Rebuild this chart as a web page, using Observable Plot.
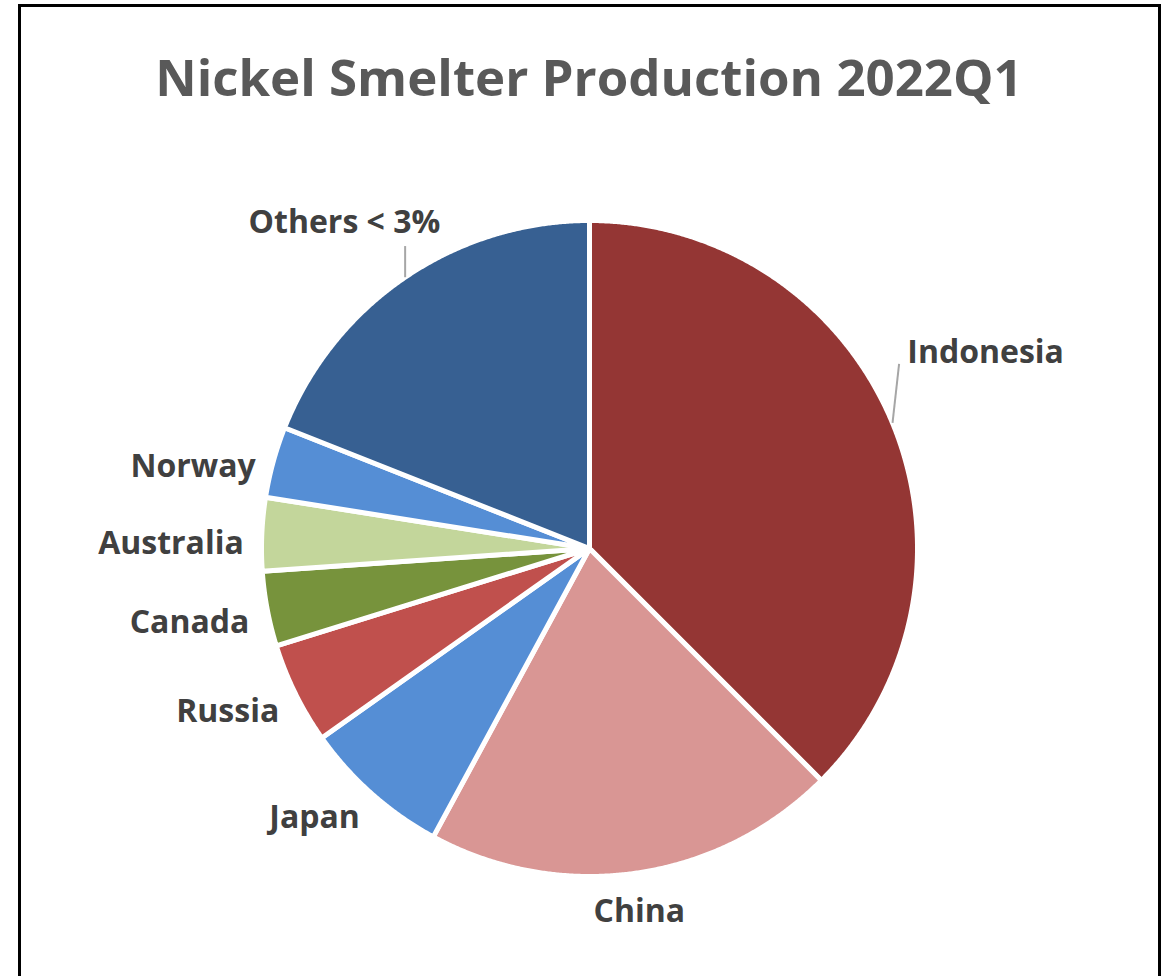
<!DOCTYPE html>
<html>
<head>
<meta charset="utf-8">
<script src="https://cdn.jsdelivr.net/npm/d3@7"></script>
<script src="https://cdn.jsdelivr.net/npm/@observablehq/plot@0.6"></script>
<style>
  html, body { margin: 0; padding: 0; background: #fff; }
  #wrap { position: relative; width: 1171px; height: 976px; overflow: hidden; background: #fff; }
  #frame { position: absolute; left: 18px; top: 4px; width: 1143px; height: 1100px; border: 3px solid #000; box-sizing: border-box; }
  #title { position: absolute; left: 0; top: 46px; width: 1178px; text-align: center; line-height: 60px;
           font-family: "Open Sans", sans-serif; font-weight: 700; font-size: 51px; color: #595959; white-space: nowrap; }
  #chart { position: absolute; left: 0; top: 150px; }
</style>
</head>
<body>
<div id="wrap">
  <div id="frame"></div>
  <div id="title">Nickel Smelter Production 2022Q1</div>
  <div id="chart"></div>
</div>
<script>
// ---- data ----
const countries = ["Indonesia", "China", "Japan", "Russia", "Canada", "Australia", "Norway", "Others < 3%"];
const shares    = [37.5, 20.4, 7.3, 5.0, 3.7, 3.6, 3.5, 19.0];
const colors    = ["#943634", "#D99694", "#558ED5", "#C0504D", "#77933C", "#C3D69B", "#558ED5", "#376092"];

// ---- layout (radius units) ----
const leaderLabels = {
  "Indonesia":   {end: [0.02, 0.18],  text: [0.045, 0.215], anchor: "start"},
  "Others < 3%": {end: [0.0, 0.095],  text: [-0.185, 0.165], anchor: "middle"}
};
const labelGap = 1.055;

const table = countries.map((name, i) => ({name, share: shares[i]}));
const arcs = d3.pie().sort(null).value(d => d.share).startAngle(0).endAngle(2 * Math.PI)(table);

// slice outlines as polygons (center + arc samples)
const poly = [];
for (const a of arcs) {
  poly.push({name: a.data.name, x: 0, y: 0});
  const n = Math.max(2, Math.ceil((a.endAngle - a.startAngle) / (Math.PI / 720)));
  for (let k = 0; k <= n; k++) {
    const t = a.startAngle + (a.endAngle - a.startAngle) * k / n;
    poly.push({name: a.data.name, x: Math.sin(t), y: Math.cos(t)});
  }
}

const labels = [], leaders = [];
for (const a of arcs) {
  const m = (a.startAngle + a.endAngle) / 2;
  const sx = Math.sin(m), sy = Math.cos(m);
  const L = leaderLabels[a.data.name];
  if (L) {
    leaders.push({x1: sx, y1: sy, x2: sx + L.end[0], y2: sy + L.end[1]});
    labels.push({name: a.data.name, x: sx + L.text[0], y: sy + L.text[1], anchor: L.anchor, line: "middle"});
  } else {
    const anchor = sx > 0.3 ? "start" : sx < -0.3 ? "end" : "middle";
    const line = sy < -0.9 ? "top" : sy > 0.9 ? "bottom" : "middle";
    labels.push({name: a.data.name, x: sx * labelGap, y: sy * labelGap, anchor, line});
  }
}

const R = 328, cx = 589, cy = 398;
const textOpts = {fill: "#404040", fontSize: 32, fontWeight: "bold", fontFamily: "'Open Sans', sans-serif"};
const groupText = (anchor, line, dy) => Plot.text(labels.filter(d => d.anchor === anchor && d.line === line),
  {x: "x", y: "y", text: "name", textAnchor: anchor, lineAnchor: line, dy, ...textOpts});

const chart = Plot.plot({
  width: 1171,
  height: 826,
  margin: 0,
  x: {domain: [-1, 1], range: [cx - R, cx + R], axis: null},
  y: {domain: [-1, 1], range: [cy + R, cy - R], axis: null},
  color: {domain: countries, range: colors},
  style: {background: "transparent"},
  marks: [
    Plot.line(poly, {x: "x", y: "y", z: "name", fill: "name", stroke: "white", strokeWidth: 5, strokeLinejoin: "round", curve: "linear-closed"}),
    Plot.link(leaders, {x1: "x1", y1: "y1", x2: "x2", y2: "y2", stroke: "#A6A6A6", strokeWidth: 2}),
    groupText("end", "middle", 10),
    groupText("start", "middle", 0),
    groupText("middle", "middle", 0),
    groupText("middle", "top", 8),
    groupText("middle", "bottom", 0)
  ]
});
document.getElementById("chart").appendChild(chart);
</script>
</body>
</html>
